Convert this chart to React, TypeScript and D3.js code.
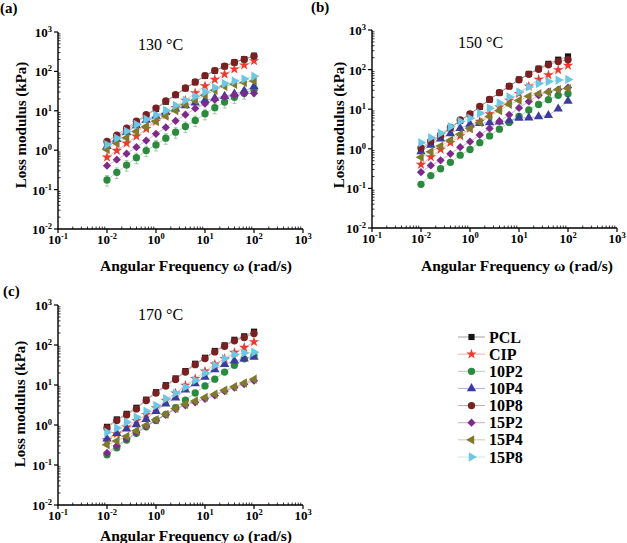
import React from "react";
import * as d3 from "d3";

// series in legend order
const SERIES = ["PCL", "CIP", "10P2", "10P4", "10P8", "15P2", "15P4", "15P8"];
const COLORS = ["#151515", "#ee3a2e", "#2b8a3e", "#3c3c9c", "#7b2020", "#7e2a8c", "#7f7a2c", "#6cc7e2"];
const SHAPES = ["square", "star", "circle", "triangle", "circle", "diamond", "triangleLeft", "triangleRight"];

// angular frequency (rad/s), 16 points per sweep
const OMEGA = [0.01, 0.01848, 0.03415, 0.0631, 0.1166, 0.2154, 0.398, 0.7356, 1.359, 2.512, 4.642, 8.577, 15.85, 29.29, 54.12, 100];

// tick labels as printed on the original x axis (exponents of 10)
const X_TICK_EXP = ["-1", "-2", "0", "1", "2", "3"];
const Y_TICKS = [0.01, 0.1, 1, 10, 100, 1000];

// (a) 130 °C, loss modulus in kPa
const a_PCL = [1.4, 2.1, 3.3, 5.0, 7.5, 11.2, 17, 25, 37, 53, 77, 104, 135, 170, 205, 250];
const a_CIP = [0.66, 0.98, 1.5, 2.26, 3.49, 5.37, 7.94, 12.0, 18.4, 28.3, 42.6, 62.1, 84.9, 114, 144, 185];
const a_10P2 = [0.175, 0.274, 0.42, 0.647, 0.977, 1.36, 2.02, 2.87, 4.0, 5.69, 8.41, 12.0, 16.7, 22, 28, 34];
const a_10P4 = [1.25, 1.9, 2.85, 4.2, 5.8, 7.4, 9.2, 11.2, 13.5, 16, 18.5, 21, 23.5, 27, 32, 41];
const a_10P8 = [1.66, 2.4, 3.62, 5.46, 7.96, 11.7, 17.7, 25.8, 37.9, 54.0, 78.5, 105, 136, 169, 201, 244];
const a_15P2 = [0.405, 0.575, 0.818, 1.19, 1.76, 2.6, 3.78, 5.58, 7.94, 11.5, 15.1, 19.2, 22.4, 25.2, 27.3, 27.8];
const a_15P4 = [1.04, 1.5, 2.06, 2.98, 4.0, 5.37, 7.35, 10.2, 14.3, 18.4, 24.7, 33.2, 42.0, 47.2, 52.0, 57.4];
const a_15P8 = [1.39, 2.02, 3.04, 4.5, 6.1, 7.8, 10.2, 13.7, 18.4, 23.3, 30.1, 38.8, 49.1, 57.4, 64.6, 75.5];

// (b) 150 °C
const b_PCL = [0.95, 1.45, 2.1, 3.3, 5.1, 7.4, 11.4, 17.5, 26, 38, 56, 78, 106, 140, 178, 215];
const b_CIP = [0.4, 0.62, 0.96, 1.43, 2.11, 3.26, 4.93, 7.6, 11.3, 16.7, 24.7, 38.1, 56.5, 73, 98, 127];
const b_10P2 = [0.127, 0.211, 0.313, 0.455, 0.689, 0.96, 1.43, 2.11, 3.13, 4.64, 6.6, 9.6, 13.2, 17.4, 22.4, 24.7];
const b_10P4 = [0.85, 1.25, 1.8, 2.43, 3.3, 4.2, 4.4, 4.6, 4.8, 5.2, 6.0, 6.1, 6.5, 7.0, 10.2, 16.0];
const b_10P8 = [1.06, 1.57, 2.24, 3.46, 5.33, 7.6, 11.7, 17.7, 26.2, 38.1, 55.5, 76, 102, 132, 160, 177];
const b_15P2 = [0.257, 0.381, 0.513, 0.745, 1.1, 1.51, 2.24, 3.26, 4.93, 7.2, 10.8, 15.7, 22.4, 27.3, 31.3, 35.2];
const b_15P4 = [0.61, 0.84, 1.17, 1.64, 2.33, 3.26, 4.64, 6.5, 9.2, 13.2, 16.7, 21.1, 24.7, 27.3, 31.3, 33.2];
const b_15P8 = [1.43, 1.91, 2.47, 3.6, 4.93, 5.87, 7.9, 10.6, 14.3, 20.3, 27.3, 36.6, 44.7, 50.2, 54.3, 56.5];

// (c) 170 °C
const c_PCL = [0.9, 1.38, 1.9, 2.7, 4.3, 6.6, 9.9, 14.6, 22.3, 34, 48, 71, 98, 135, 165, 215];
const c_CIP = [0.42, 0.6, 0.88, 1.29, 1.82, 2.68, 4.1, 6.27, 9.8, 14.4, 22, 32.9, 45.7, 64.7, 86.3, 120];
const c_10P2 = [0.18, 0.27, 0.42, 0.62, 0.9, 1.3, 1.85, 2.7, 4.2, 6.3, 9.5, 14, 21, 31, 45, 55];
const c_10P4 = [0.45, 0.62, 0.8, 1.02, 1.39, 2.21, 3.38, 4.79, 7.6, 10.8, 15.8, 24.2, 33, 40, 45, 50];
const c_10P8 = [0.84, 1.29, 1.79, 2.53, 4.1, 6.27, 9.4, 13.8, 21.1, 32.3, 45.7, 67.2, 93, 127, 154, 194];
const c_15P2 = [0.2, 0.3, 0.45, 0.65, 0.93, 1.3, 1.8, 2.5, 3.1, 3.7, 4.5, 5.5, 7.0, 8.6, 10.5, 12.8];
const c_15P4 = [0.32, 0.4, 0.52, 0.72, 0.98, 1.35, 1.85, 2.6, 3.3, 4.0, 4.9, 5.9, 7.4, 9.1, 11.2, 14];
const c_15P8 = [0.66, 0.84, 1.17, 1.56, 2.21, 3.07, 4.52, 6.27, 8.87, 13.1, 20, 31, 45.7, 57.5, 63.4, 65.9];

// relative error of the 10P2 measurements per panel
const ERR_10P2 = [0.3, 0.12, 0.08];

const FONT = "Liberation Serif, serif";

const symbolFor = (shape: string) => {
  switch (shape) {
    case "square":
      return { p: d3.symbol(d3.symbolSquare, 38)(), r: 0 };
    case "star":
      return { p: d3.symbol(d3.symbolStar, 34)(), r: 0 };
    case "circle":
      return { p: d3.symbol(d3.symbolCircle, 42)(), r: 0 };
    case "triangle":
      return { p: d3.symbol(d3.symbolTriangle, 38)(), r: 0 };
    case "diamond":
      return { p: d3.symbol(d3.symbolSquare, 34)(), r: 45 };
    case "triangleLeft":
      return { p: d3.symbol(d3.symbolTriangle, 38)(), r: -90 };
    default:
      return { p: d3.symbol(d3.symbolTriangle, 38)(), r: 90 };
  }
};

const Marker = ({ shape, color, cx, cy }) => {
  const s = symbolFor(shape);
  return <path d={s.p} fill={color} transform={`translate(${cx},${cy}) rotate(${s.r})`} />;
};

const Pow10 = ({ x, y, exp, anchor }) => (
  <text x={x} y={y} textAnchor={anchor} fontWeight="bold" fontSize={13}>
    10
    <tspan dy={-5} fontSize={8.5}>{exp}</tspan>
  </text>
);

const Panel = ({ cfg, values, err }) => {
  const { x0, x1, yt, yb } = cfg;
  const x = d3.scaleLog().domain([Math.pow(10, -10 / 3), Math.pow(10, 10 / 3)]).range([x0, x1]);
  const xt = d3.scalePoint().domain(X_TICK_EXP).range([x0, x1]);
  const y = d3.scaleLog().domain([0.01, 1000]).range([yb, yt]);
  const line = d3
    .line<number>()
    .x((_, i) => x(OMEGA[i]))
    .y((d) => y(d));

  // minor ticks: log spacing inside each labelled interval
  const step = xt.step();
  const xMinor = X_TICK_EXP.slice(0, -1).flatMap((e) =>
    d3.range(2, 10).map((m) => xt(e) + step * Math.log10(m))
  );
  const yMinor = Y_TICKS.slice(0, -1).flatMap((d) => d3.range(2, 10).map((m) => y(d * m)));

  return (
    <g>
      <text x={cfg.lx} y={cfg.ly} fontWeight="bold" fontSize={15}>
        {cfg.label}
      </text>
      <text x={cfg.tx} y={cfg.ty} fontSize={16}>
        {cfg.temp}
      </text>

      {/* axes */}
      <path d={`M${x0},${yt}V${yb}H${x1}`} fill="none" stroke="#000" strokeWidth={1.4} />
      {Y_TICKS.map((t) => (
        <g key={t}>
          <line x1={x0 - 4} x2={x0} y1={y(t)} y2={y(t)} stroke="#000" strokeWidth={1.2} />
          <Pow10 x={x0 - 6} y={y(t) + 5} exp={String(Math.round(Math.log10(t)))} anchor="end" />
        </g>
      ))}
      {yMinor.map((v, i) => (
        <line key={i} x1={x0} x2={x0 + 2.5} y1={v} y2={v} stroke="#000" strokeWidth={0.8} />
      ))}
      {X_TICK_EXP.map((e) => (
        <g key={e}>
          <line x1={xt(e)} x2={xt(e)} y1={yb} y2={yb + 4} stroke="#000" strokeWidth={1.2} />
          <Pow10 x={xt(e)} y={yb + 15} exp={e} anchor="middle" />
        </g>
      ))}
      {xMinor.map((v, i) => (
        <line key={i} x1={v} x2={v} y1={yb} y2={yb - 2.5} stroke="#000" strokeWidth={0.8} />
      ))}

      <text
        transform={`translate(${cfg.yx},${cfg.yy}) rotate(-90)`}
        textAnchor="middle"
        fontWeight="bold"
        fontSize={15}
      >
        Loss modulus (kPa)
      </text>
      <text x={cfg.xx} y={cfg.xy} textAnchor="middle" fontWeight="bold" fontSize={15.5}>
        Angular Frequency ω (rad/s)
      </text>

      {/* series */}
      {values.map((vals, s) => (
        <g key={SERIES[s]}>
          <path d={line(vals)} fill="none" stroke={COLORS[s]} strokeOpacity={0.45} strokeWidth={0.8} />
          {SERIES[s] === "10P2" &&
            vals.map((v, i) => {
              const px = x(OMEGA[i]);
              const lo = y(v * (1 - err));
              const hi = y(v * (1 + err));
              return (
                <g key={i} stroke={COLORS[s]} strokeOpacity={0.45} strokeWidth={0.9}>
                  <line x1={px} x2={px} y1={hi} y2={lo} />
                  <line x1={px - 2} x2={px + 2} y1={lo} y2={lo} />
                  <line x1={px - 2} x2={px + 2} y1={hi} y2={hi} />
                </g>
              );
            })}
          {vals.map((v, i) => (
            <Marker key={i} shape={SHAPES[s]} color={COLORS[s]} cx={x(OMEGA[i])} cy={y(v)} />
          ))}
        </g>
      ))}
    </g>
  );
};

const PANELS = [
  {
    label: "(a)", lx: 0, ly: 13, temp: "130 °C", tx: 138, ty: 50,
    x0: 58, x1: 303, yt: 32, yb: 229, yx: 26, yy: 125, xx: 196, xy: 271,
  },
  {
    label: "(b)", lx: 311, ly: 12, temp: "150 °C", tx: 458, ty: 48,
    x0: 372, x1: 617, yt: 30, yb: 228, yx: 344, yy: 125, xx: 517, xy: 271,
  },
  {
    label: "(c)", lx: 3, ly: 296, temp: "170 °C", tx: 138, ty: 320,
    x0: 58, x1: 303, yt: 305, yb: 505, yx: 25, yy: 404, xx: 196, xy: 541,
  },
];

const VALUES = [
  [a_PCL, a_CIP, a_10P2, a_10P4, a_10P8, a_15P2, a_15P4, a_15P8],
  [b_PCL, b_CIP, b_10P2, b_10P4, b_10P8, b_15P2, b_15P4, b_15P8],
  [c_PCL, c_CIP, c_10P2, c_10P4, c_10P8, c_15P2, c_15P4, c_15P8],
];

const Legend = () => {
  const row = d3.scaleLinear().domain([0, SERIES.length - 1]).range([337, 457]);
  return (
    <g>
      {SERIES.map((name, i) => (
        <g key={name}>
          <line x1={458} x2={485} y1={row(i)} y2={row(i)} stroke={COLORS[i]} strokeOpacity={0.45} strokeWidth={0.9} />
          <Marker shape={SHAPES[i]} color={COLORS[i]} cx={471.5} cy={row(i)} />
          <text x={489} y={row(i) + 5.5} fontWeight="bold" fontSize={16}>
            {name}
          </text>
        </g>
      ))}
    </g>
  );
};

export default function App() {
  return (
    <svg
      width={627}
      height={543}
      fontFamily={FONT}
      style={{ position: "absolute", left: 0, top: 0, background: "#fff", fontFamily: FONT }}
    >
      {PANELS.map((cfg, k) => (
        <Panel key={cfg.label} cfg={cfg} values={VALUES[k]} err={ERR_10P2[k]} />
      ))}
      <Legend />
    </svg>
  );
}
